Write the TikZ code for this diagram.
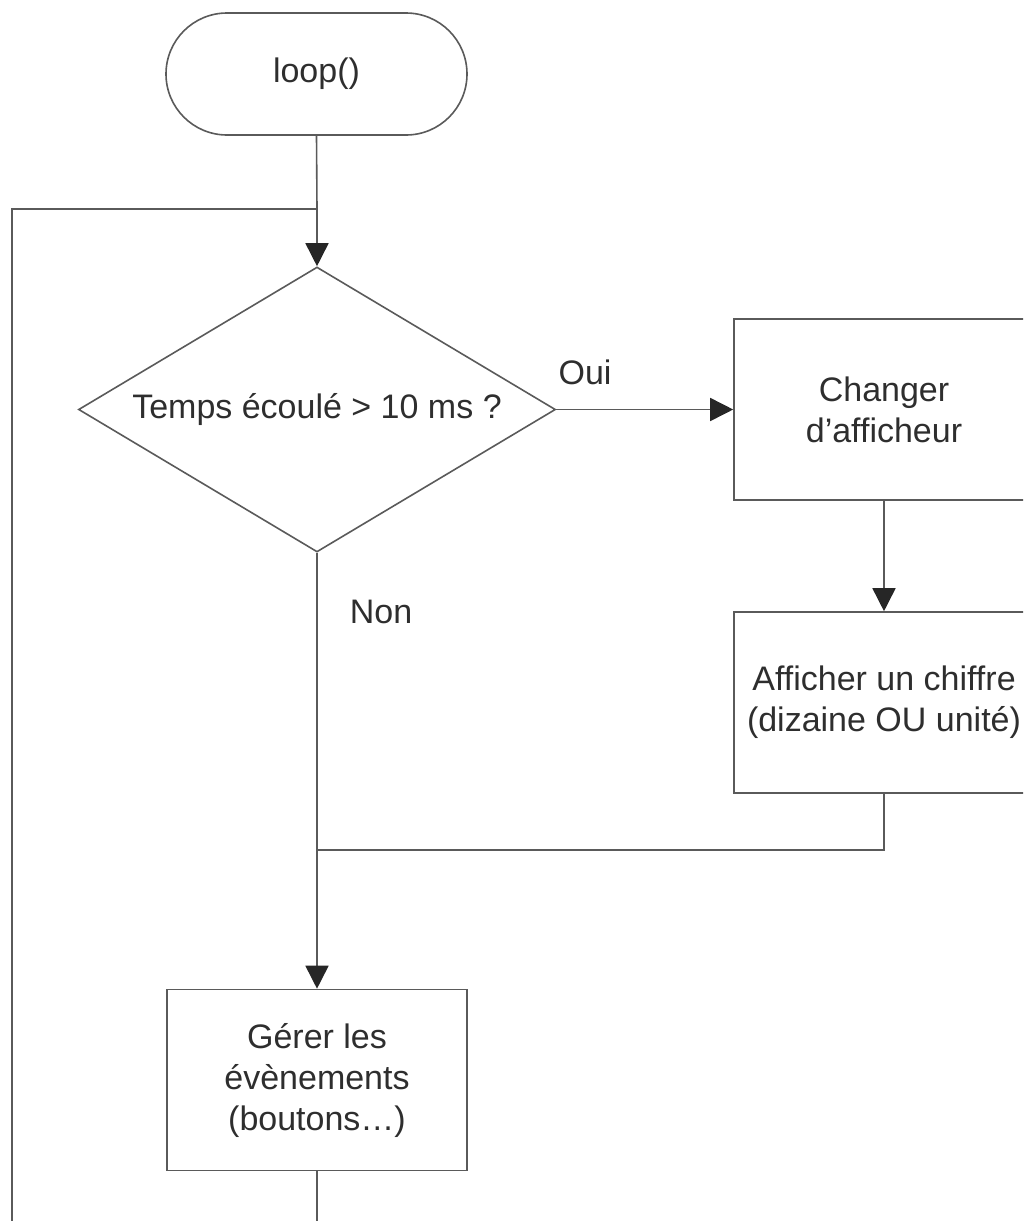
\documentclass[tikz,border=0pt]{standalone}
\usepackage{fontspec}
\setmainfont{Liberation Sans}
\usetikzlibrary{shapes.geometric,shapes.misc,arrows.meta}
\definecolor{lg}{HTML}{5A5A5A}
\definecolor{tx}{HTML}{2E2E2E}
\definecolor{tipc}{HTML}{262626}
\begin{document}
\begin{tikzpicture}[x=1pt,y=-1pt,
  txt/.style={text=tx, font=\fontsize{34}{41}\selectfont, align=center},
  box/.style={txt, draw=lg, line width=1.6pt, minimum width=300pt, minimum height=181pt, inner sep=0pt},
  term/.style={box, rounded rectangle, minimum width=301pt, minimum height=122pt},
  dec/.style={box, diamond, aspect=1.674, minimum width=477pt, minimum height=285pt},
  lbl/.style={txt, inner sep=0pt},
  conn/.style={draw=lg, line width=1.6pt},
  arr/.style={conn, -{Triangle[length=23pt,width=23pt,color=tipc]}}]
\useasboundingbox (0,0) rectangle (1023,1221);
\clip (0,0) rectangle (1023,1221);
\node[term] (loop) at (316.5,74) {loop()};
\node[dec] (d) at (317,409.5) {Temps écoulé > 10 ms ?};
\node[box] (b1) at (884,409.5) {Changer\\d’afficheur};
\node[box] (b2) at (884,702.5) {Afficher un chiffre\\(dizaine OU unité)};
\node[box] (b3) at (317,1080) {Gérer les\\évènements\\(boutons…)};
\node[lbl] (oui) at (585,372) {Oui};
\node[lbl] (non) at (381,612) {Non};
\coordinate (j1) at (317,209);
\coordinate (j2) at (317,850);
\coordinate (k2) at (884,850);
\coordinate (bl) at (12,1240);
\coordinate (bm) at (317,1240);
\draw[conn] (loop.south) -- (j1);
\draw[arr] (j1) -- (d.north);
\draw[conn] (bl) -- (bl |- j1) -- (j1);
\draw[arr] (d.east) -- (b1.west);
\draw[arr] (b1.south) -- (b2.north);
\draw[conn] (b2.south) -- (k2) -- (j2);
\draw[conn] (d.south) -- (j2);
\draw[arr] (j2) -- (b3.north);
\draw[conn] (b3.south) -- (bm);
\end{tikzpicture}
\end{document}
